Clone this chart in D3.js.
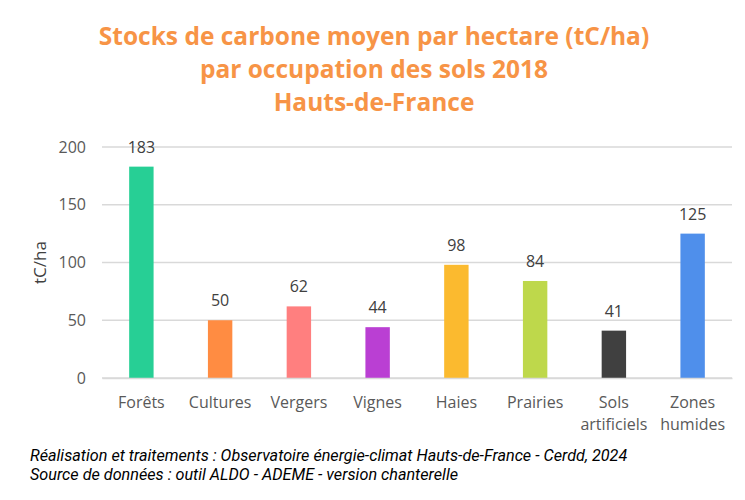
<!DOCTYPE html>
<html>
<head>
<meta charset="utf-8">
<script src="https://cdn.jsdelivr.net/npm/d3@7"></script>
<style>
  body { margin: 0; background: #fff; }
  svg { display: block; }
</style>
</head>
<body>
<div id="chart"></div>
<script>
// Données
const categories = ['Forêts', 'Cultures', 'Vergers', 'Vignes', 'Haies', 'Prairies', 'Sols|artificiels', 'Zones|humides'];
const valeurs = [183, 50, 62, 44, 98, 84, 41, 125];
const couleurs = ['#27CF95', '#FF8C42', '#FF7F7F', '#BA3FD3', '#FBBA2F', '#BED84B', '#404040', '#4F8FEB'];
const yTicks = [0, 50, 100, 150, 200];
const titre = ['Stocks de carbone moyen par hectare (tC/ha)', 'par occupation des sols 2018', 'Hauts-de-France'];
const notes = ['Réalisation et traitements : Observatoire énergie-climat Hauts-de-France - Cerdd, 2024',
               'Source de données : outil ALDO - ADEME - version chanterelle'];

const W = 745, H = 500;
const margin = {top: 147, right: 13, bottom: 122, left: 102};
const width = W - margin.left - margin.right;
const height = H - margin.top - margin.bottom;

const svg = d3.select('#chart').append('svg')
  .attr('width', W).attr('height', H);

// Titre
svg.append('g').selectAll('text')
  .data(titre)
  .enter().append('text')
    .attr('x', 374)
    .attr('y', (d, i) => 45 + i * 33)
    .attr('text-anchor', 'middle')
    .attr('font-family', 'Open Sans, sans-serif')
    .attr('font-weight', 'bold')
    .attr('font-size', 24.5)
    .attr('fill', '#F79446')
    .text(d => d);

const g = svg.append('g')
  .attr('transform', `translate(${margin.left},${margin.top})`);

const x = d3.scaleBand()
  .domain(categories)
  .range([0, width])
  .paddingInner(0.69)
  .paddingOuter(0.345);

const y = d3.scaleLinear()
  .domain([0, 200])
  .range([height, 0]);

// Grille
g.selectAll('.grid')
  .data(yTicks)
  .enter().append('line')
    .attr('x1', 0).attr('x2', width)
    .attr('y1', d => y(d)).attr('y2', d => y(d))
    .attr('stroke', '#D9D9D9')
    .attr('stroke-width', 1.3);

// Axe Y
const yAxis = g.append('g')
  .call(d3.axisLeft(y).tickValues(yTicks).tickSize(0).tickPadding(16));
yAxis.select('.domain').remove();
yAxis.selectAll('text')
  .attr('font-family', 'Open Sans, sans-serif')
  .attr('font-size', 16)
  .attr('fill', '#595959');

svg.append('text')
  .attr('transform', `translate(46,${margin.top + height / 2}) rotate(-90)`)
  .attr('text-anchor', 'middle')
  .attr('font-family', 'Open Sans, sans-serif')
  .attr('font-size', 17)
  .attr('fill', '#404040')
  .text('tC/ha');

// Barres
g.selectAll('.bar')
  .data(categories)
  .enter().append('rect')
    .attr('class', 'bar')
    .attr('x', d => x(d))
    .attr('y', (d, i) => y(valeurs[i]))
    .attr('width', x.bandwidth())
    .attr('height', (d, i) => height - y(valeurs[i]))
    .attr('fill', (d, i) => couleurs[i]);

// Étiquettes de valeurs
g.selectAll('.val')
  .data(categories)
  .enter().append('text')
    .attr('x', d => x(d) + x.bandwidth() / 2)
    .attr('y', (d, i) => y(valeurs[i]) - 14)
    .attr('text-anchor', 'middle')
    .attr('font-family', 'Open Sans, sans-serif')
    .attr('font-size', 16)
    .attr('fill', '#404040')
    .text((d, i) => valeurs[i]);

// Axe X
const xAxis = g.append('g')
  .attr('transform', `translate(0,${height})`)
  .call(d3.axisBottom(x).tickSize(0).tickFormat(''));
xAxis.select('.domain').attr('stroke', '#D9D9D9').attr('stroke-width', 1.3);

const xLabels = g.selectAll('.xlab')
  .data(categories)
  .enter().append('text')
    .attr('x', d => x(d) + x.bandwidth() / 2)
    .attr('y', height + 30)
    .attr('text-anchor', 'middle')
    .attr('font-family', 'Open Sans, sans-serif')
    .attr('font-size', 16)
    .attr('fill', '#595959');
xLabels.each(function(d) {
  const lignes = d.split('|');
  const t = d3.select(this);
  lignes.forEach((l, i) => {
    t.append('tspan')
      .attr('x', t.attr('x'))
      .attr('dy', i === 0 ? 0 : 22)
      .text(l);
  });
});

// Notes
svg.append('g').selectAll('text')
  .data(notes)
  .enter().append('text')
    .attr('x', 30)
    .attr('y', (d, i) => 461 + i * 19)
    .attr('font-family', 'Roboto, sans-serif')
    .attr('font-style', 'italic')
    .attr('font-size', 16.2)
    .attr('fill', '#000')
    .text(d => d);
</script>
</body>
</html>
